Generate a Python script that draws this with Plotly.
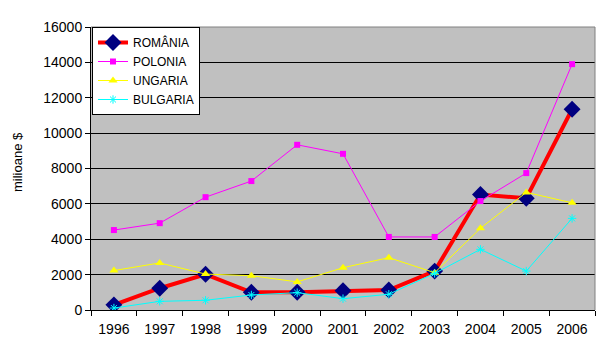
import plotly.graph_objects as go

years = ["1996", "1997", "1998", "1999", "2000", "2001", "2002", "2003", "2004", "2005", "2006"]
romania = [290, 1230, 2020, 1000, 1000, 1090, 1130, 2200, 6530, 6320, 11350]
polonia = [4520, 4910, 6380, 7290, 9340, 8830, 4130, 4130, 6160, 7740, 13900]
ungaria = [2230, 2660, 2030, 1940, 1590, 2390, 2960, 2110, 4620, 6650, 6060]
bulgaria = [110, 490, 550, 850, 980, 640, 890, 2070, 3430, 2200, 5180]

FONT = "Liberation Sans, Arial, sans-serif"

fig = go.Figure()
fig.add_trace(go.Scatter(x=years, y=romania, name="ROMÂNIA", mode="lines+markers",
                         line=dict(color="#FF0000", width=4),
                         marker=dict(symbol="diamond", size=13, color="#000080")))
fig.add_trace(go.Scatter(x=years, y=polonia, name="POLONIA", mode="lines+markers",
                         line=dict(color="#FF00FF", width=1),
                         marker=dict(symbol="square", size=6, color="#FF00FF")))
fig.add_trace(go.Scatter(x=years, y=ungaria, name="UNGARIA", mode="lines+markers",
                         line=dict(color="#FFFF00", width=1),
                         marker=dict(symbol="triangle-up", size=8, color="#FFFF00")))
fig.add_trace(go.Scatter(x=years, y=bulgaria, name="BULGARIA", mode="lines+markers",
                         line=dict(color="#00FFFF", width=1),
                         marker=dict(symbol="asterisk-open", size=7, color="#00FFFF",
                                     line=dict(color="#00FFFF", width=1))))

fig.update_layout(
    width=600, height=348,
    margin=dict(l=91, r=5, t=27, b=38),
    paper_bgcolor="white", plot_bgcolor="#C0C0C0",
    font=dict(family=FONT, size=14, color="black"),
    showlegend=True,
    legend=dict(x=0.002, y=1, xanchor="left", yanchor="top",
                bgcolor="white", bordercolor="black", borderwidth=1,
                font=dict(family=FONT, size=12, color="black"),
                tracegroupgap=0, itemwidth=30),
    xaxis=dict(type="category", range=[-0.5, 10.5], tickson="boundaries",
               ticks="outside", ticklen=5, tickcolor="black", showgrid=False,
               showline=True, linecolor="black", linewidth=1,
               ticklabelstandoff=6,
               tickfont=dict(family=FONT, size=14)),
    yaxis=dict(range=[0, 16000], dtick=2000, tickformat="d", ticks="outside", ticklen=5,
               tickcolor="black", showgrid=True, gridcolor="black", gridwidth=1,
               showline=True, linecolor="black", linewidth=1, zeroline=False,
               tickfont=dict(family=FONT, size=14)),
    annotations=[
        dict(text="milioane $", xref="paper", yref="paper", x=(18 - 91) / 504,
             y=(310 - 162) / 283, textangle=-90, showarrow=False,
             xanchor="center", yanchor="middle",
             font=dict(family=FONT, size=13, color="black")),
    ],
    shapes=[
        dict(type="line", xref="paper", yref="paper", x0=0, x1=1, y0=1, y1=1,
             line=dict(color="#808080", width=1), layer="above"),
        dict(type="line", xref="paper", yref="paper", x0=1, x1=1, y0=0, y1=1,
             line=dict(color="#808080", width=1), layer="above"),
    ],
)

fig.write_html("out.html")
